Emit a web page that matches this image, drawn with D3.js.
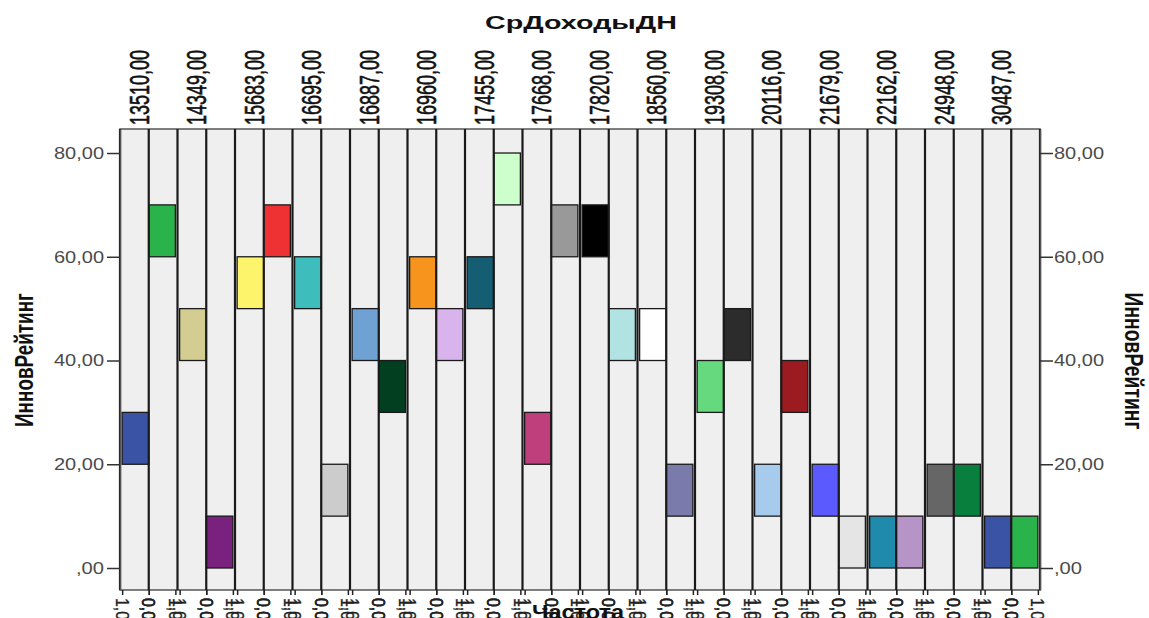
<html>
<head>
<meta charset="utf-8" />
<script src="https://d3js.org/d3.v7.min.js"></script>
<style>
  body { margin: 0; background: #fff; }
  text { font-family: "Liberation Sans", Arial, sans-serif; }
</style>
</head>
<body>
<svg id="chart" width="1149" height="618"></svg>
<script>
// panels: СрДоходыДН values
const incomes = ["13510,00", "14349,00", "15683,00", "16695,00", "16887,00", "16960,00",
  "17455,00", "17668,00", "17820,00", "18560,00", "19308,00", "20116,00",
  "21679,00", "22162,00", "24948,00", "30487,00"]
// two halves per panel (left, right), 32 columns, bin start of ИнновРейтинг
const ratingBins = [20, 60, 40, 0, 50, 60, 50, 10, 40, 30, 50, 40, 50, 70, 20, 60,
  60, 40, 40, 10, 30, 40, 10, 30, 10, 0, 0, 0, 10, 10, 0, 0]
const counts = [1, 1, 1, 1, 1, 1, 1, 1, 1, 1, 1, 1, 1, 1, 1, 1,
  1, 1, 1, 1, 1, 1, 1, 1, 1, 1, 1, 1, 1, 1, 1, 1]
const barColors = ["#3a53a4", "#2bb34b", "#d3cd92", "#7a2180", "#fdf46b", "#ee3233", "#3ebdbd", "#cccccc",
  "#6fa1d3", "#013f20", "#f7941d", "#d9b4ec", "#145d73", "#ccffcc", "#bf3f7c", "#999999",
  "#000000", "#b1e3e3", "#ffffff", "#7a7aab", "#66d97f", "#2c2c2c", "#a6cbec", "#9b1b20",
  "#5a5aff", "#e5e5e5", "#1f8aab", "#b794c8", "#666666", "#087f3c", "#3a53a4", "#2bb34b"]
const yTicks = [0, 20, 40, 60, 80]
const freqTicks = [0, 1]
const binWidth = 10

const svg = d3.select("#chart")
const x0 = 120, x1 = 1040, yTop = 129, yBot = 590

const panelX = d3.scaleBand().domain(incomes).range([x0, x1])
const half = panelX.bandwidth() / 2
const y = d3.scaleLinear().domain([-4.24, 84.63]).range([yBot, yTop])
const fx = d3.scaleLinear().domain([0, 1.08]).range([0, half])

const fmtY = d => d === 0 ? ",00" : d + ",00"
const fmtF = d => d.toFixed(1).replace(".", ",")

// panel background
svg.append("rect")
  .attr("x", x0).attr("y", yTop)
  .attr("width", x1 - x0).attr("height", yBot - yTop)
  .attr("fill", "#efefef").attr("stroke", "#555").attr("stroke-width", 1.5)

const columns = ratingBins.map((b, i) => ({
  panel: incomes[Math.floor(i / 2)],
  side: i % 2 ? 1 : -1,
  bin: b,
  count: counts[i],
  color: barColors[i]
}))
columns.forEach(c => { c.cx = panelX(c.panel) + half })

// bars
svg.selectAll("rect.bar").data(columns).enter()
  .append("rect")
  .attr("class", "bar")
  .attr("x", d => d.side < 0 ? d.cx - fx(d.count) : d.cx)
  .attr("width", d => fx(d.count))
  .attr("y", d => y(d.bin + binWidth))
  .attr("height", d => y(d.bin) - y(d.bin + binWidth))
  .attr("fill", d => d.color)
  .attr("stroke", "#1a1a1a").attr("stroke-width", 1.3)

// column divider lines
const lineXs = []
incomes.forEach(p => { lineXs.push(panelX(p), panelX(p) + half) })
lineXs.push(x1)
svg.selectAll("line.div").data(lineXs).enter()
  .append("line")
  .attr("x1", d => d).attr("x2", d => d)
  .attr("y1", yTop).attr("y2", yBot)
  .attr("stroke", "#1a1a1a").attr("stroke-width", 2.2)

// y axes
const leftAxis = svg.append("g").attr("transform", `translate(${x0},0)`)
  .call(d3.axisLeft(y).tickValues(yTicks).tickFormat(fmtY).tickSize(13).tickSizeOuter(0).tickPadding(3))
const rightAxis = svg.append("g").attr("transform", `translate(${x1},0)`)
  .call(d3.axisRight(y).tickValues(yTicks).tickFormat(fmtY).tickSize(13).tickSizeOuter(0).tickPadding(1))
;[leftAxis, rightAxis].forEach(g => {
  g.select(".domain").attr("stroke", "#555").attr("stroke-width", 1.5)
  g.selectAll(".tick line").attr("stroke", "#333").attr("stroke-width", 1.5)
  g.selectAll(".tick text")
    .attr("font-size", 16.5).attr("fill", "#4a4a4a")
    .attr("textLength", d => d === 0 ? 28 : 50).attr("lengthAdjust", "spacingAndGlyphs")
})

// frequency axes, one per half panel
columns.forEach(c => {
  const s = d3.scaleLinear().domain([0, 1.08])
    .range(c.side < 0 ? [c.cx, c.cx - half] : [c.cx, c.cx + half])
  const g = svg.append("g").attr("transform", `translate(0,${yBot})`)
    .call(d3.axisBottom(s).tickValues(freqTicks).tickFormat(fmtF).tickSize(5).tickSizeOuter(0))
  g.select(".domain").remove()
  g.selectAll(".tick line").attr("stroke", "#222").attr("stroke-width", 1.5)
  g.selectAll(".tick text")
    .attr("transform", "rotate(90)")
    .attr("x", 8).attr("y", 7).attr("dy", 0)
    .attr("text-anchor", "start")
    .attr("font-size", 18).attr("fill", "#222")
    .attr("stroke", "#222").attr("stroke-width", 0.3)
    .attr("textLength", 22).attr("lengthAdjust", "spacingAndGlyphs")
})

// panel labels
svg.selectAll("text.plab").data(incomes).enter()
  .append("text")
  .attr("transform", d => `translate(${panelX(d) + half},125) rotate(-90)`)
  .attr("text-anchor", "start")
  .attr("font-size", 27).attr("fill", "#111")
  .attr("stroke", "#111").attr("stroke-width", 0.6)
  .attr("textLength", 75).attr("lengthAdjust", "spacingAndGlyphs")
  .text(d => d)

// titles
svg.append("text")
  .attr("x", 581).attr("y", 29).attr("text-anchor", "middle")
  .attr("font-size", 19).attr("font-weight", "bold").attr("fill", "#111")
  .attr("textLength", 192).attr("lengthAdjust", "spacingAndGlyphs")
  .text("СрДоходыДН")

svg.append("text")
  .attr("transform", "translate(33,360) rotate(-90)")
  .attr("text-anchor", "middle")
  .attr("font-size", 25).attr("font-weight", "bold").attr("fill", "#111")
  .attr("textLength", 134).attr("lengthAdjust", "spacingAndGlyphs")
  .text("ИнновРейтинг")

svg.append("text")
  .attr("transform", "translate(1125,361) rotate(90)")
  .attr("text-anchor", "middle")
  .attr("font-size", 25).attr("font-weight", "bold").attr("fill", "#111")
  .attr("textLength", 137).attr("lengthAdjust", "spacingAndGlyphs")
  .text("ИнновРейтинг")

svg.append("text")
  .attr("x", 578).attr("y", 619).attr("text-anchor", "middle")
  .attr("font-size", 20).attr("font-weight", "bold").attr("fill", "#111")
  .attr("textLength", 92).attr("lengthAdjust", "spacingAndGlyphs")
  .text("Частота")
</script>
</body>
</html>
